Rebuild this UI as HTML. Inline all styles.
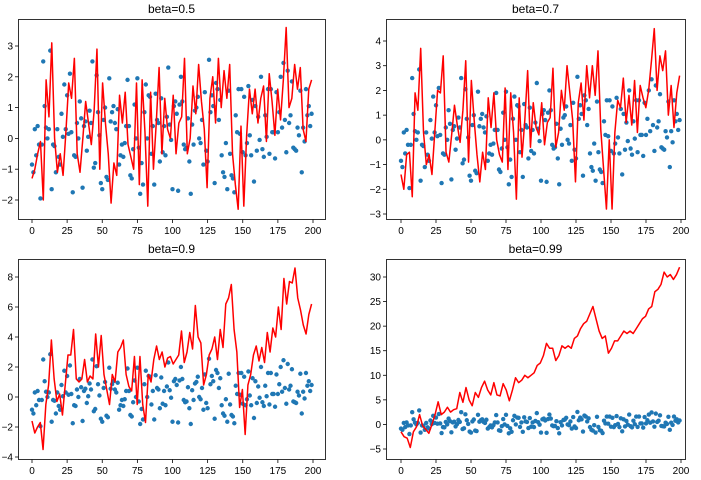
<!DOCTYPE html>
<html><head><meta charset="utf-8">
<style>
html,body{margin:0;padding:0;background:#fff;}
svg{display:block;font-family:"Liberation Sans","DejaVu Sans",sans-serif;}
</style></head>
<body>
<svg id="fig" width="701" height="480" viewBox="0 0 701 480" xmlns="http://www.w3.org/2000/svg"></svg>
<script>
const noise = [-0.85,-1.1,0.3,-0.55,0.4,-0.2,-1.95,-0.2,2.5,1.05,0.35,
0,0.3,2.85,-1.65,-0.2,-0.25,-1.1,0.3,-0.6,-0.85,
0.8,0.05,1.75,0.3,1.4,0.15,2.1,0.2,-1.75,-0.55,
-0.6,0.5,0,1.2,0.65,-1.6,0.4,0.55,-0.4,0.05,
0.9,0.5,2.5,-0.95,-0.8,2.05,0.85,0.1,-1.45,-1.65,
0.6,1.0,-1.25,-1.35,1.95,0.55,0.85,1.05,0.5,0.3,
0.95,-0.85,-0.55,-0.2,-0.6,-0.15,0.4,1.9,0.4,-1.2,
-1.3,-0.35,1.1,0,1.95,-0.3,-1.8,-0.8,-1.5,0.85,
1.75,0,1.4,1.35,-0.5,0.4,-1.5,1.45,0.6,0.5,
-0.75,1.3,-0.45,0.4,-0.55,0.7,2.3,0.45,-0.05,-1.65,
1.05,1.2,0.8,-1.7,1.1,2.0,1.2,-0.2,-0.35,-0.3,
0.65,-0.75,-1.8,0.45,-0.2,0.9,1.0,1.35,0,-0.15,
0.6,-0.85,1.5,-0.4,-0.75,2.55,0.85,1.4,1.05,-1.45,
1.8,1.6,0.6,1.25,-0.55,-1.1,-1.25,-0.15,-1.65,1.55,
-0.5,-1.2,-1.3,-1.75,0.75,0.2,1.6,0.15,1.6,-0.45,
1.35,-0.55,-0.15,1.7,0.1,-0.55,1.25,-1.4,1.05,-0.4,
0.7,-0.05,2.0,-0.35,-0.6,0.75,0.05,1.6,-0.5,1.6,
0.2,0.2,-0.65,1.5,0.2,0.85,2.0,0.35,2.45,0.6,
-0.45,2.2,0.5,0.75,1.85,-0.3,-0.35,-0.4,0.35,0.1,
1.55,-1.1,0.35,-0.1,1.6,0.75,1.05,0.4,0.8];

const avg05 = [-1.3,-1.0,-0.5,-0.1,-2.0,1.9,0.7,3.1,0.0,-1.1,-0.5,-1.2,0.2,1.8,1.3,2.6,-0.5,-1.1,0.0,1.2,0.5,-0.2,0.9,2.9,-1.0,1.8,0.5,-0.5,-2.1,-0.8,-1.2,1.4,0.5,1.5,-0.2,-0.6,-1.0,1.8,-1.5,1.9,0.2,-2.2,1.5,-1.0,0.5,2.3,-0.5,1.3,0.3,0.0,1.4,-0.5,0.5,0.7,2.6,-0.5,0.0,1.7,0.8,2.4,1.2,0.3,-1.6,1.3,2.0,0.5,2.6,1.0,2.2,1.3,2.4,-0.5,-1.5,-2.3,0.4,-2.2,0.1,1.6,0.8,1.6,0.5,1.3,1.7,-0.1,2.1,1.2,0.1,1.6,0.6,1.9,3.6,1.0,1.3,2.4,1.6,2.3,0.3,-0.1,1.6,1.9];
const avg07 = [-1.4,-2.0,-0.6,-0.5,-2.3,1.9,1.2,3.7,0.3,-1.0,-0.6,-1.4,0.3,2.0,1.9,3.4,-0.5,-0.9,0.2,1.4,0.6,-0.1,1.2,3.2,-0.9,2.4,0.8,-0.6,-1.7,-0.5,-1.2,1.7,0.5,1.9,0.0,-0.6,-0.9,2.1,-1.2,1.9,0.3,-2.4,1.7,-0.7,0.8,2.8,-0.3,1.5,0.5,0.2,1.5,-0.2,0.7,0.9,2.9,-0.3,0.3,2.0,1.2,3.0,1.9,0.8,-1.7,1.5,2.3,0.8,3.0,1.7,3.0,1.8,3.6,0.4,-1.2,-2.8,0.0,-2.8,0.3,1.6,1.3,2.5,0.7,1.8,0.6,2.4,0.3,2.2,1.7,1.3,2.0,3.2,4.5,2.0,3.4,2.8,3.6,1.0,2.2,0.5,1.9,2.6];
const avg09 = [-1.6,-2.4,-2.0,-1.7,-3.5,-0.5,0.8,3.8,1.2,-0.3,0.2,-1.2,0.8,2.8,2.8,4.5,1.2,1.0,1.2,2.5,1.0,1.4,1.2,4.2,2.0,4.1,1.5,0.5,-0.5,1.5,1.0,3.0,3.3,3.8,1.5,0.7,0.4,2.7,-0.5,2.7,-0.5,-1.7,1.5,1.0,2.5,3.4,2.5,3.0,2.0,2.6,2.7,2.2,2.5,2.8,4.4,2.3,3.0,4.3,3.2,6.1,4.0,3.6,0.8,1.5,2.8,3.2,4.0,2.5,4.5,3.3,6.2,6.6,7.5,4.5,3.0,-0.7,0.5,-2.5,0.8,1.5,2.8,3.4,2.4,3.3,2.3,4.3,3.0,4.6,4.0,6.0,4.5,7.9,6.2,7.7,7.6,8.6,6.6,5.8,4.8,4.2,5.5,6.2];
const avg099 = [-1.5,-2.5,-2.8,-4.7,-1.5,-0.5,2.0,-0.3,-1.0,-1.8,0.0,2.0,4.6,2.0,2.5,3.5,2.5,3.0,3.2,6.5,4.5,7.5,5.0,3.8,6.5,5.5,7.5,8.8,7.0,6.0,8.5,6.0,5.8,8.3,7.0,4.8,7.0,9.5,8.5,9.0,10.0,9.5,10.0,10.5,12.0,12.5,14.0,16.5,15.5,15.5,13.0,14.0,16.0,15.5,16.0,15.5,17.5,18.0,19.5,20.5,21.0,22.5,24.0,21.5,19.0,17.5,18.0,14.5,15.5,17.0,17.0,18.0,19.0,18.5,19.0,18.5,19.5,20.5,21.5,22.0,23.5,24.0,27.0,27.5,28.5,31.0,30.0,30.5,29.5,30.5,32.0];

const xTicks = [0,25,50,75,100,125,150,175,200];
const yTicks05 = [-2,-1,0,1,2,3];
const yTicks07 = [-3,-2,-1,0,1,2,3,4];
const yTicks09 = [-4,-2,0,2,4,6,8];
const yTicks099 = [-5,0,5,10,15,20,25,30];

const NS="http://www.w3.org/2000/svg";
const svg=document.getElementById('fig');
function mk(tag,attrs,parent){const e=document.createElementNS(NS,tag);for(const k in attrs)e.setAttribute(k,attrs[k]);(parent||svg).appendChild(e);return e;}

// panel geometry: frame box and calibration (value->pixel)
const panels=[
 {title:'beta=0.5',name:'beta-0-5',L:18,R:325,T:19,B:219,x0:32,x200:313,yA:3,pA:46,yB:-2,pB:200,line:avg05,ticks:yTicks05},
 {title:'beta=0.7',name:'beta-0-7',L:386,R:685,T:19,B:219,x0:401,x200:681,yA:4,pA:41,yB:-3,pB:214,line:avg07,ticks:yTicks07},
 {title:'beta=0.9',name:'beta-0-9',L:18,R:325,T:259,B:459,x0:32,x200:313,yA:8,pA:277,yB:-4,pB:457,line:avg09,ticks:yTicks09},
 {title:'beta=0.99',name:'beta-0-99',L:386,R:685,T:259,B:459,x0:401,x200:681,yA:30,pA:277,yB:-5,pB:449,line:avg099,ticks:yTicks099}
];

panels.forEach(p=>{
  const g=mk('g',{});
  
  
  const sx=v=>p.x0+(v/200)*(p.x200-p.x0);
  const sy=v=>p.pB+(v-p.yB)*(p.pA-p.pB)/(p.yA-p.yB);
  // dots
  const dg=mk('g',{fill:'#1f77b4'},g);
  
  
  noise.forEach((v,i)=>{
    const c=mk('circle',{cx:sx(i).toFixed(2),cy:sy(v).toFixed(2),r:2.2},dg);
    
    
  });
  // red line
  const n=p.line.length;
  const pts=p.line.map((v,i)=>sx(i*199/(n-1)).toFixed(2)+','+sy(v).toFixed(2)).join(' ');
  const pl=mk('polyline',{points:pts,fill:'none',stroke:'#ff0000','stroke-width':1.5,'stroke-linejoin':'round'},g);
  
  
  // frame
  const fr=mk('rect',{x:p.L+0.5,y:p.T+0.5,width:p.R-p.L,height:p.B-p.T,fill:'none',stroke:'#000','stroke-width':0.8},g);
  
  
  // x ticks
  xTicks.forEach(t=>{
    const x=sx(t);
    mk('line',{x1:x,x2:x,y1:p.B+0.5,y2:p.B+4,stroke:'#000','stroke-width':0.8},g);
    const tx=mk('text',{x:x,y:p.B+15,'font-size':10,'text-anchor':'middle',fill:'#000'},g);
    
    
    tx.textContent=t;
  });
  p.ticks.forEach(t=>{
    const y=sy(t);
    mk('line',{x1:p.L+0.5,x2:p.L-3,y1:y,y2:y,stroke:'#000','stroke-width':0.8},g);
    const tx=mk('text',{x:p.L-5,y:y+3.5,'font-size':10,'text-anchor':'end',fill:'#000'},g);
    
    
    tx.textContent=(t<0?'\u2212'+(-t):t);
  });
  const ti=mk('text',{x:(p.L+p.R)/2,y:p.T-6,'font-size':12,'text-anchor':'middle',fill:'#000'},g);
  
  
  ti.textContent=p.title;
});
</script>
</body></html>
